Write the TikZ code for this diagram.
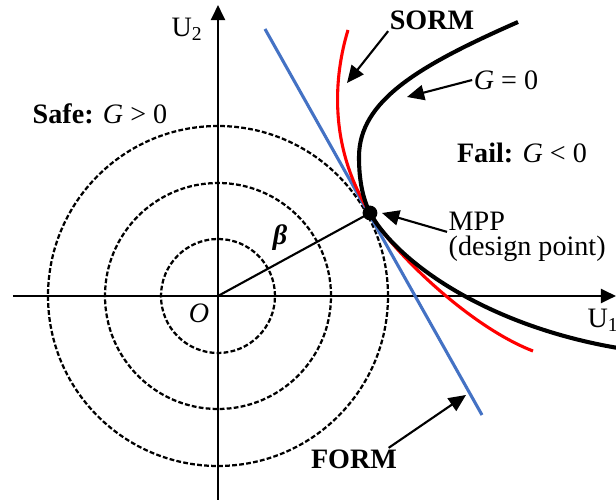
\documentclass[tikz,border=0pt]{standalone}
\usepackage{fontspec}
\setmainfont{Liberation Serif}
\usetikzlibrary{arrows.meta, positioning}
\definecolor{formblue}{RGB}{68,114,196}
\definecolor{sormred}{RGB}{255,0,0}
\tikzset{
  axis/.style={line width=1.9pt, -{Triangle[length=3.8mm,width=3.5mm]}},
  ring/.style={line width=1.6pt, dash pattern=on 3.4pt off 1.6pt},
  pointer/.style={line width=1.5pt, -{Triangle[length=4.3mm,width=3.8mm]}},
  lbl/.style={font=\fontsize{20}{22}\selectfont, inner sep=1pt},
}

\begin{document}
\begin{tikzpicture}[x=0.25mm, y=0.25mm]
                \useasboundingbox (-218,-205) rectangle (398,296);
                \coordinate (O) at (0,0);
                \draw[axis] (-205,0) -- (398,0);
                \draw[axis] (0,-204) -- (0,291);
                \foreach \r in {57,113,170}
                    \draw[ring] (O) circle (\r);
                % limit state and its approximations
                \draw[formblue, line width=2.2pt] (47,267) -- (264,-119);
                \draw[sormred, line width=2.2pt] (130,266) .. controls (116,220) and (110,150) .. (152,83)
                    .. controls (172,47) and (250,-30) .. (315,-55);
                \draw[line width=2.9pt] (300,274) .. controls (200,230) and (141,195) .. (141,139)
                    .. controls (141,115) and (145,97) .. (152,83)
                    .. controls (180,33) and (270,-30) .. (400,-52);
                \draw[line width=1.5pt] (O) -- (152,83);
                \node[circle, fill, inner sep=0pt, minimum size=3.7mm] (dp) at (152,83) {};
                % labels
                \node[lbl] (u2) at (-31,267) {U\textsubscript{2}};
                \node[lbl, anchor=west] (u1) at (368,-24) {U\textsubscript{1}};
                \node[lbl] (olabel) at (-19,-17) {\textit{O}};
                \node[lbl] (beta) at (62,58) {\textbf{\textit{β}}};
                \node[lbl] (safe) at (-118,182) {\textbf{Safe:} \textit{G} > 0};
                \node[lbl] (fail) at (304,143) {\textbf{Fail:} \textit{G} < 0};
                \node[lbl] (sorm) at (214,276) {\textbf{SORM}};
                \node[lbl] (gzero) at (288,216) {\textit{G} = 0};
                \node[lbl, anchor=west] (mpp) at (229,75) {MPP};
                \node[lbl, anchor=west] (design) at (229,47) {(design point)};
                \node[lbl] (form) at (136,-163) {\textbf{FORM}};
                % pointers
                \coordinate (sormtip) at (129,213);
                \coordinate (gtip) at (189,199);
                \coordinate (dptip) at (164,83);
                \coordinate (formtip) at (248,-99);
                \draw[pointer] (sorm.south west) -- (sormtip);
                \draw[pointer] (gzero.west) -- (gtip);
                \draw[pointer] (mpp.south west) -- (dptip);
                \draw[pointer] ([xshift=-2.5mm]form.north east) -- (formtip);
            \end{tikzpicture}
\end{document}
